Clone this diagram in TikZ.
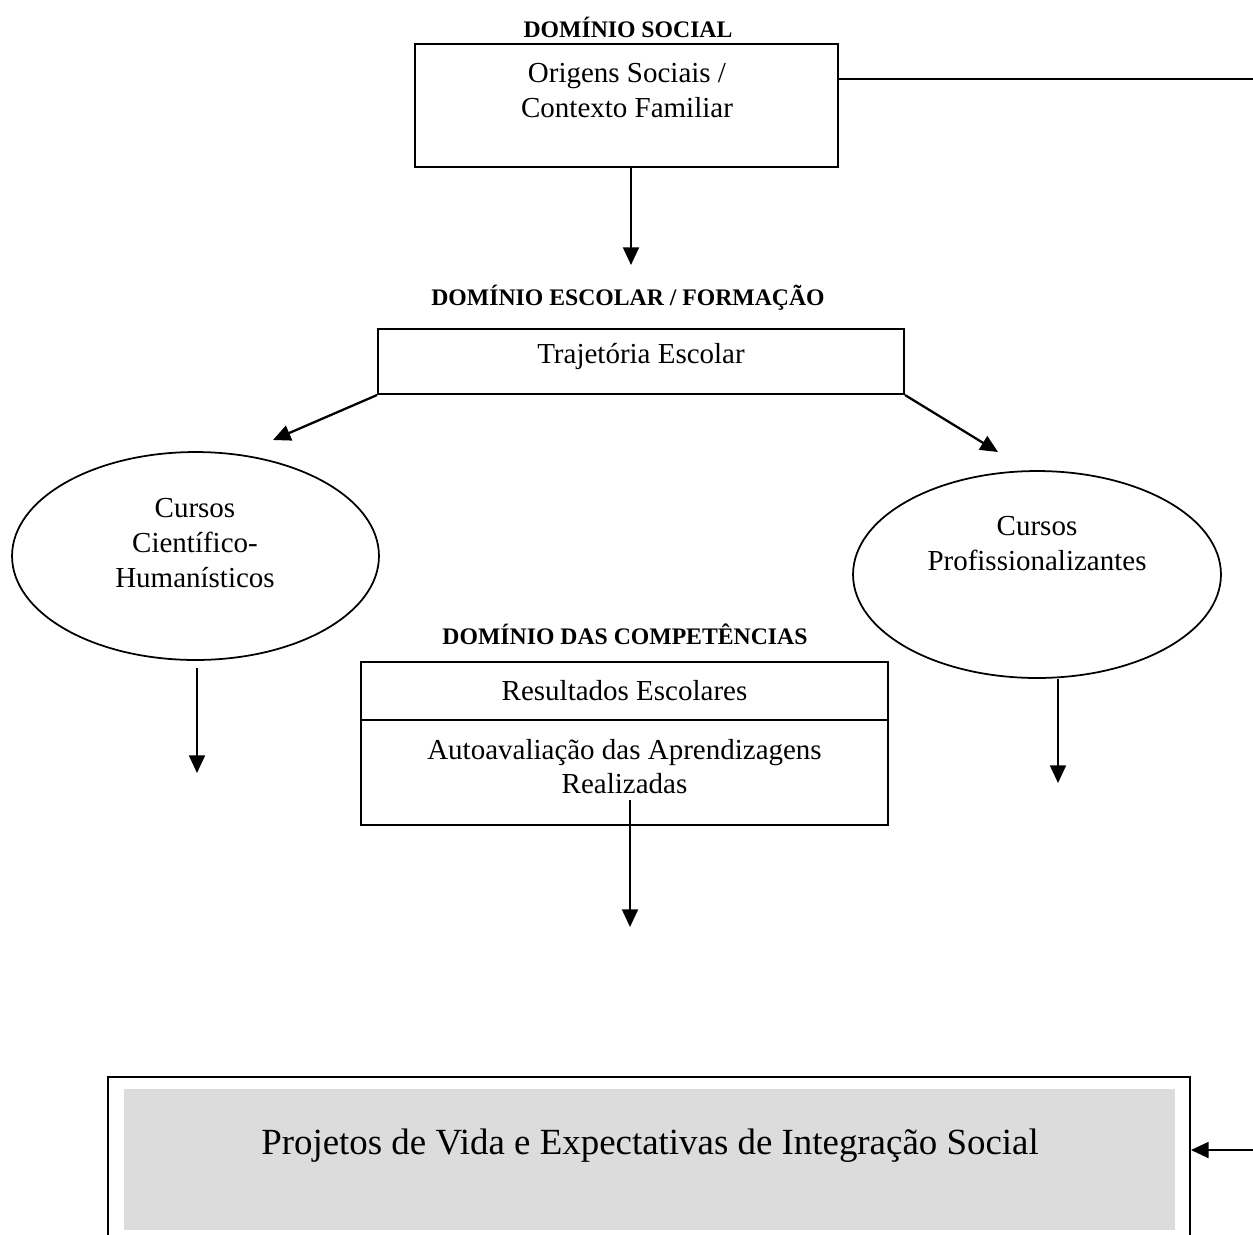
\documentclass[tikz,border=0pt]{standalone}
\usepackage{fontspec}
\setmainfont{Liberation Serif}
\usetikzlibrary{arrows.meta,shapes.geometric}
\definecolor{fillgray}{RGB}{220,220,220}
\tikzset{
  box/.style={draw, line width=1.2pt, inner sep=0pt},
  oval/.style={draw, ellipse, line width=1pt, inner sep=0pt},
  txt/.style={align=center, font=\fontsize{16.5}{19.8}\selectfont},
  head/.style={font=\fontsize{13.5}{16}\selectfont\bfseries},
  arr/.style={line width=1.3pt, -{Triangle[length=10pt,width=9pt]}}
}
\begin{document}
\begin{tikzpicture}[x=0.02cm, y=-0.02cm]
  \clip (0,0) rectangle (1253,1234);
  \useasboundingbox (0,0) rectangle (1253,1234);
  % social
  \node[head] (hsoc) at (628,27) {DOMÍNIO SOCIAL};
  \node[box, minimum width=8.46cm, minimum height=2.46cm] (orig) at (626.5,105.5) {};
  \node[txt] (origtxt) at (627,90.5) {Origens Sociais /\\Contexto Familiar};
  % escolar
  \node[head] (hesc) at (628,298) {DOMÍNIO ESCOLAR / FORMAÇÃO};
  \node[box, minimum width=10.52cm, minimum height=1.3cm] (traj) at (641,361.5) {};
  \node[txt] (trajtxt) at (641,356) {Trajetória Escolar};
  \node[oval, minimum width=7.34cm, minimum height=4.16cm] (cch) at (195.5,556) {};
  \node[txt] at (195,543) {Cursos\\Científico-\\Humanísticos};
  \node[oval, minimum width=7.36cm, minimum height=4.14cm] (cpro) at (1037,574.5) {};
  \node[txt] at (1037,543.5) {Cursos\\Profissionalizantes};
  % competencias
  \node[head] (hcomp) at (625,634) {DOMÍNIO DAS COMPETÊNCIAS};
  \node[box, txt, minimum width=10.54cm, minimum height=1.16cm] (res) at (624.5,691) {Resultados Escolares};
  \node[box, minimum width=10.54cm, minimum height=2.1cm] (auto) at (624.5,772.5) {};
  \node[txt] (autotxt) at (624.5,766.5) {Autoavaliação das Aprendizagens\\Realizadas};
  % projetos
  \node[box, minimum width=21.64cm, minimum height=3.6cm] (proj) at (649,1167) {};
  \node[fill=fillgray, inner sep=0pt, minimum width=21.02cm, minimum height=2.82cm] (projfill) at (649.5,1159.5) {};
  \node[font=\fontsize{21}{25}\selectfont] (projtxt) at (650,1146) {Projetos de Vida e Expectativas de Integração Social};
  % connectors
  \coordinate (t1) at (631,265);
  \coordinate (t2) at (273,440);
  \coordinate (t3) at (998,452);
  \coordinate (t4) at (197,773);
  \coordinate (t5) at (1058,783);
  \coordinate (t6) at (630,927);
  \coordinate (c1) at (1258,79);
  \coordinate (c2) at (1258,1150);
  \draw[arr] (orig.south -| t1) -- (t1);
  \draw[arr] (traj.south west) -- (t2);
  \draw[arr] (traj.south east) -- (t3);
  \draw[arr] ([yshift=-0.14cm]cch.south -| t4) -- (t4);
  \draw[arr] (cpro.south -| t5) -- (t5);
  \draw[arr] (autotxt.south -| t6) -- (t6);
  \draw[arr] (orig.east |- c1) -- (c1) -- (c2) -- (proj.east |- c2);
\end{tikzpicture}
\end{document}
